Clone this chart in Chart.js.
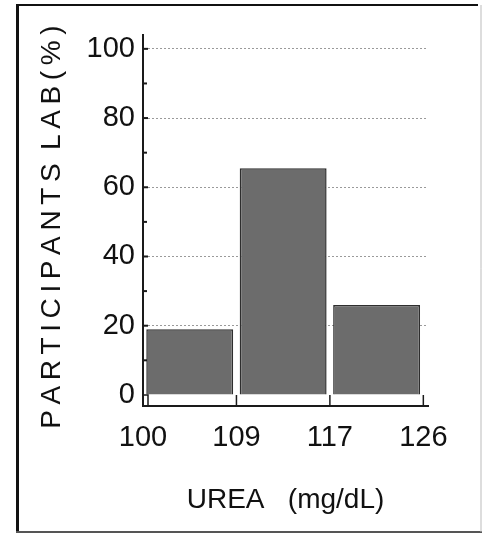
<!DOCTYPE html>
<html><head><meta charset="utf-8">
<script src="https://cdn.jsdelivr.net/npm/chart.js@4"></script>
<style>html,body{margin:0;padding:0;background:#fff;overflow:hidden}#wrap{width:482px;height:534px;position:relative}</style>
</head><body><div id="wrap"><canvas id="c" width="482" height="534"></canvas></div>
<script>
const binEdges = ["100", "109", "117", "126"];
const participantsPct = [19, 65.5, 26];
const yMajorTicks = [0, 20, 40, 60, 80, 100];
const yMinorTicks = [10, 30, 50, 70, 90];
const xTitle = "UREA   (mg/dL)";
const T = "\u2009";
const yTitle = ["P","A","R","T","I","C","I","P","A","N","T","S"].join(T) + " " + T + ["L","A","B","(","%",")"].join(T) + " " + T;

const SANS = '"Liberation Sans", Arial, sans-serif';
const INK = '#1a1a1a';

const decor = {
  id: 'decor',
  beforeDraw(chart) {
    const c = chart.ctx;
    c.save();
    c.fillStyle = '#fff';
    c.fillRect(0, 0, chart.width, chart.height);
    c.restore();
  },
  afterDraw(chart) {
    const c = chart.ctx, xs = chart.scales.x, ys = chart.scales.y;
    const x0 = xs.left, yb = ys.bottom;
    c.save();
    c.strokeStyle = INK;
    c.lineWidth = 2;
    yMajorTicks.forEach(v => {
      if (v === 0) return;
      const y = ys.getPixelForValue(v);
      c.beginPath(); c.moveTo(x0, y); c.lineTo(x0 + 5, y); c.stroke();
    });
    yMinorTicks.forEach(v => {
      const y = ys.getPixelForValue(v);
      c.beginPath(); c.moveTo(x0, y); c.lineTo(x0 + 4, y); c.stroke();
    });
    const y0 = ys.getPixelForValue(0);
    c.lineWidth = 1.5;
    c.beginPath(); c.moveTo(x0, y0); c.lineTo(x0 + 5, y0); c.lineTo(x0 + 5, yb); c.stroke();
    binEdges.forEach((_, i) => {
      if (i === 0) return;
      const x = xs.getPixelForValue(i);
      c.beginPath(); c.moveTo(x, yb); c.lineTo(x, yb - 11); c.stroke();
    });
    c.lineWidth = 3; c.strokeStyle = '#111';
    c.beginPath(); c.moveTo(17.5, 4); c.lineTo(17.5, 533); c.stroke();
    c.lineWidth = 2;
    c.beginPath(); c.moveTo(16, 5); c.lineTo(478, 5); c.stroke();
    c.strokeStyle = '#555';
    c.beginPath(); c.moveTo(16, 532); c.lineTo(482, 532); c.stroke();
    c.strokeStyle = '#bbb'; c.lineWidth = 1;
    c.beginPath(); c.moveTo(481, 5); c.lineTo(481, 532); c.stroke();
    c.restore();
  }
};

new Chart(document.getElementById('c'), {
  type: 'bar',
  data: {
    datasets: [{
      data: participantsPct.map((v, i) => ({ x: i + 0.5, y: v })),
      backgroundColor: '#6c6c6c',
      borderColor: '#2e2e2e',
      borderWidth: 1.5,
      barPercentage: 1,
      categoryPercentage: 0.93
    }]
  },
  options: {
    responsive: false,
    animation: false,
    devicePixelRatio: 1,
    layout: { padding: { left: 20, top: 35, right: 54, bottom: 10 } },
    plugins: { legend: { display: false }, tooltip: { enabled: false } },
    scales: {
      x: {
        type: 'linear', min: 0, max: 3.05, offset: false,
        afterBuildTicks: s => { s.ticks = binEdges.map((_, i) => ({ value: i })); },
        ticks: {
          callback: (v, i) => binEdges[i],
          font: { family: SANS, size: 29 }, color: '#111',
          padding: 15, maxRotation: 0, autoSkip: false
        },
        grid: { display: false, drawTicks: false, offset: false },
        border: { display: true, color: INK, width: 2 },
        title: { display: true, text: xTitle, font: { family: SANS, size: 28 }, color: '#111', padding: { top: 0, bottom: 7 } },
        afterFit: s => { s.height = 118; }
      },
      y: {
        type: 'linear', min: -3.2, max: 104,
        afterBuildTicks: s => { s.ticks = yMajorTicks.map(v => ({ value: v })); },
        ticks: { font: { family: SANS, size: 29 }, color: '#111', padding: 8 },
        grid: {
          drawTicks: false,
          color: ctx => (ctx.tick && ctx.tick.value > 0) ? '#9a9a9a' : 'rgba(0,0,0,0)',
          lineWidth: 1
        },
        border: { display: true, color: INK, width: 2, dash: [2, 2] },
        title: { display: true, text: yTitle, font: { family: SANS, size: 28 }, color: '#111', padding: { top: 15, bottom: 0 } },
        afterFit: s => { s.width = 123; }
      }
    }
  },
  plugins: [decor]
});
</script></body></html>
